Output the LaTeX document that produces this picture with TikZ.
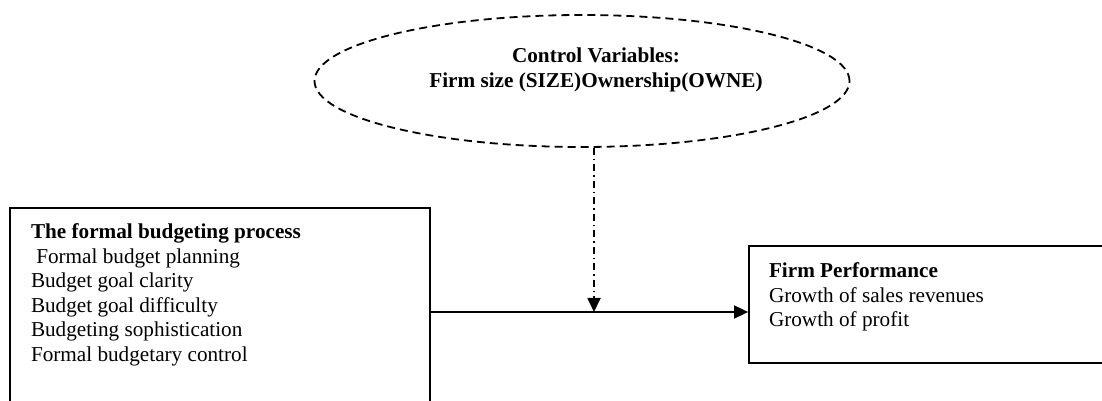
\documentclass[tikz,border=0pt]{standalone}
\usepackage{fontspec}
\setmainfont{Liberation Serif}
\usetikzlibrary{arrows.meta,shapes.geometric}

\begin{document}
\begin{tikzpicture}[x=1pt,y=1pt,line width=1.8pt,
		every node/.style={font=\fontsize{21.2}{24.5}\selectfont},
		frame/.style={draw,rectangle,inner sep=0pt},
		listtext/.style={anchor=north west,align=left,inner sep=0pt},
		ctrlshape/.style={draw,ellipse,dash pattern=on 8pt off 5pt,minimum width=535,minimum height=132,inner sep=0pt},
		flow/.style={-{Triangle[length=14pt,width=13pt]}},
		moderate/.style={dash pattern=on 7pt off 4pt on 1.5pt off 4pt,-{Triangle[length=14pt,width=13pt]}}]
		\useasboundingbox (0,0) rectangle (1102,401);
		\clip (0,0) rectangle (1102,401);
		% control variables
		\node[ctrlshape] (ctrl) at (582,320) {};
		\node[align=center,font=\fontsize{21.2}{25}\selectfont\bfseries] (ctrltxt) at (596,331) {Control Variables:\\Firm size (SIZE)Ownership(OWNE)};
		% the two boxes
		\node[frame,minimum width=420,minimum height=220] (budget) at (220,83) {};
		\node[listtext] (budgettxt) at ([xshift=21,yshift=-16]budget.north west) {\textbf{The formal budgeting process}\\\hspace{0.25em}Formal budget planning\\Budget goal clarity\\Budget goal difficulty\\Budgeting sophistication\\Formal budgetary control};
		\node[frame,minimum width=371,minimum height=117] (perf) at (934.5,96.5) {};
		\node[listtext] (perftxt) at ([xshift=20,yshift=-17]perf.north west) {\textbf{Firm Performance}\\Growth of sales revenues\\Growth of profit};
		% arrows
		\coordinate (join) at (594,89);
		\draw[flow] (budget.east |- join) -- (perf.west |- join);
		\draw[moderate] (ctrl.south -| join) -- (join);
	    \end{tikzpicture}
\end{document}
